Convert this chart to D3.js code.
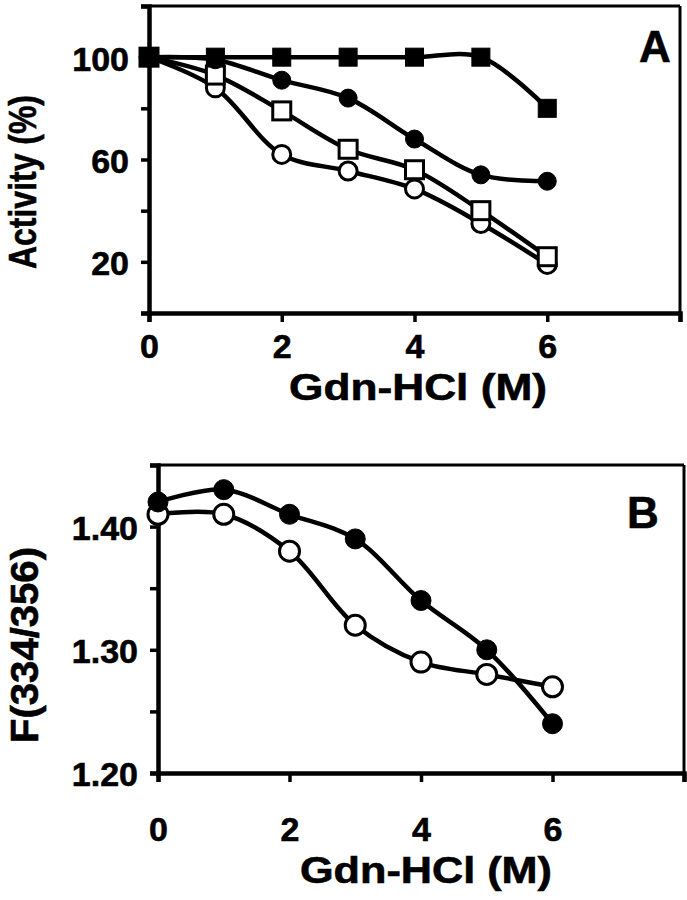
<!DOCTYPE html>
<html><head><meta charset="utf-8">
<script src="https://cdn.jsdelivr.net/npm/d3@7"></script>
<style>
body{margin:0;background:#fff}
svg{display:block}
text{font-family:"Liberation Sans",Arial,sans-serif;font-weight:bold;fill:#000;stroke:#000;stroke-width:0.6px}
</style>
</head><body>
<svg id="c" width="687" height="900"></svg>
<script>
// ---- data ----
const conc = [0, 1, 2, 3, 4, 5, 6];
const actFilledSquare = [100, 100, 100, 100, 100, 100, 80];
const actFilledCircle = [100, 99, 91, 84, 68, 54, 51.5];
const actOpenSquare   = [100, 93, 79, 64, 56, 40, 22];
const actOpenCircle   = [100, 88, 62, 55.5, 48.5, 35, 19];
const fluoFilledCircle = [1.42, 1.43, 1.41, 1.39, 1.34, 1.30, 1.24];
const fluoOpenCircle   = [1.41, 1.41, 1.38, 1.32, 1.29, 1.28, 1.27];
const xTickValues = [0, 2, 4, 6, 8];
const xTickLabels = ["0", "2", "4", "6", ""];
const actTickValues = [0, 20, 40, 60, 80, 100, 120];
const actTickLabels = ["", "20", "", "60", "", "100", ""];
const fluoTickValues = [1.20, 1.25, 1.30, 1.35, 1.40, 1.45];
const fluoTickLabels = ["1.20", "", "1.30", "", "1.40", ""];
const xTitle = "Gdn-HCl (M)";
const actTitle = "Activity (%)";
const fluoTitle = "F(334/356)";

const svg = d3.select("#c");

function panel(cfg) {
  const g = svg.append("g");
  const x = d3.scaleLinear().domain([0, 8]).range([cfg.left, cfg.right]);
  const y = d3.scaleLinear().domain(cfg.yDomain).range([cfg.bottom, cfg.top]);

  // frame top/right
  g.append("line").attr("x1", cfg.left).attr("x2", cfg.right).attr("y1", cfg.top).attr("y2", cfg.top)
    .attr("stroke", "#000").attr("stroke-width", 3);
  g.append("line").attr("x1", cfg.right).attr("x2", cfg.right).attr("y1", cfg.top).attr("y2", cfg.bottom)
    .attr("stroke", "#000").attr("stroke-width", 3);

  // axes
  const xa = g.append("g").attr("transform", `translate(0,${cfg.bottom})`)
    .call(d3.axisBottom(x).tickValues(xTickValues).tickFormat((d, i) => xTickLabels[i]).tickSize(9).tickPadding(0));
  const ya = g.append("g").attr("transform", `translate(${cfg.left},0)`)
    .call(d3.axisLeft(y).tickValues(cfg.yTicks).tickFormat((d, i) => cfg.yLabels[i]).tickSize(8).tickPadding(cfg.yPad));
  [xa, ya].forEach(a => {
    a.select(".domain").attr("stroke-width", 4.5).attr("stroke", "#000");
    a.selectAll(".tick line").attr("stroke-width", 3.5).attr("stroke", "#000");
    a.selectAll(".tick text").style("font-size", cfg.tickFont + "px")
      .style("font-family", '"Liberation Sans",Arial,sans-serif').style("font-weight", "bold")
      .attr("stroke", "#000").attr("stroke-width", 0.6);
  });
  ya.selectAll(".tick text").attr("dy", "0.38em");
  xa.selectAll(".tick text").attr("y", cfg.xLabelBase).attr("dy", 0);

  // titles
  g.append("text").attr("x", cfg.xTitleX).attr("y", cfg.xTitleY).attr("text-anchor", "middle")
    .style("font-size", "37px").attr("textLength", cfg.xTitleLen).attr("lengthAdjust", "spacingAndGlyphs")
    .text(xTitle);
  g.append("text").attr("transform", `translate(${cfg.yTitleX},${cfg.yTitleY}) rotate(-90)`)
    .attr("text-anchor", "middle").style("font-size", "39px")
    .attr("textLength", cfg.yTitleLen).attr("lengthAdjust", "spacingAndGlyphs").text(cfg.yTitle);
  g.append("text").attr("x", cfg.letterX).attr("y", cfg.letterY).attr("text-anchor", "middle")
    .style("font-size", "44px").text(cfg.letter);

  const line = d3.line().x((d, i) => x(conc[i])).y(d => y(d)).curve(d3.curveCatmullRom.alpha(0.5));

  cfg.series.forEach(s => {
    g.append("path").datum(s.values).attr("d", line).attr("fill", "none")
      .attr("stroke", "#000").attr("stroke-width", 4.5);
    const m = g.append("g");
    s.values.forEach((v, i) => {
      const cx = x(conc[i]), cy = y(v);
      if (s.shape === "square") {
        m.append("rect").attr("x", cx - 9).attr("y", cy - 9).attr("width", 18).attr("height", 18)
          .attr("fill", s.filled ? "#000" : "#fff").attr("stroke", "#000").attr("stroke-width", s.filled ? 1 : 3);
      } else {
        m.append("circle").attr("cx", cx).attr("cy", cy).attr("r", cfg.r)
          .attr("fill", s.filled ? "#000" : "#fff").attr("stroke", "#000").attr("stroke-width", s.filled ? 1 : 3);
      }
    });
  });
}

panel({
  left: 149, right: 680, top: 6, bottom: 313, r: 9,
  yDomain: [0, 120], yTicks: actTickValues, yLabels: actTickLabels, yPad: 12, tickFont: 34,
  xLabelBase: 45,
  xTitleX: 418, xTitleY: 400, xTitleLen: 258,
  yTitleX: 36, yTitleY: 182, yTitle: actTitle, yTitleLen: 174,
  letter: "A", letterX: 655, letterY: 62,
  series: [
    {values: actOpenCircle, shape: "circle", filled: false},
    {values: actOpenSquare, shape: "square", filled: false},
    {values: actFilledCircle, shape: "circle", filled: true},
    {values: actFilledSquare, shape: "square", filled: true}
  ]
});

panel({
  left: 158, right: 684, top: 465, bottom: 773, r: 10,
  yDomain: [1.20, 1.45], yTicks: fluoTickValues, yLabels: fluoTickLabels, yPad: 12, tickFont: 34,
  xLabelBase: 68,
  xTitleX: 426, xTitleY: 883, xTitleLen: 252,
  yTitleX: 38, yTitleY: 645, yTitle: fluoTitle, yTitleLen: 196,
  letter: "B", letterX: 643, letterY: 528,
  series: [
    {values: fluoOpenCircle, shape: "circle", filled: false},
    {values: fluoFilledCircle, shape: "circle", filled: true}
  ]
});
</script>
</body></html>
